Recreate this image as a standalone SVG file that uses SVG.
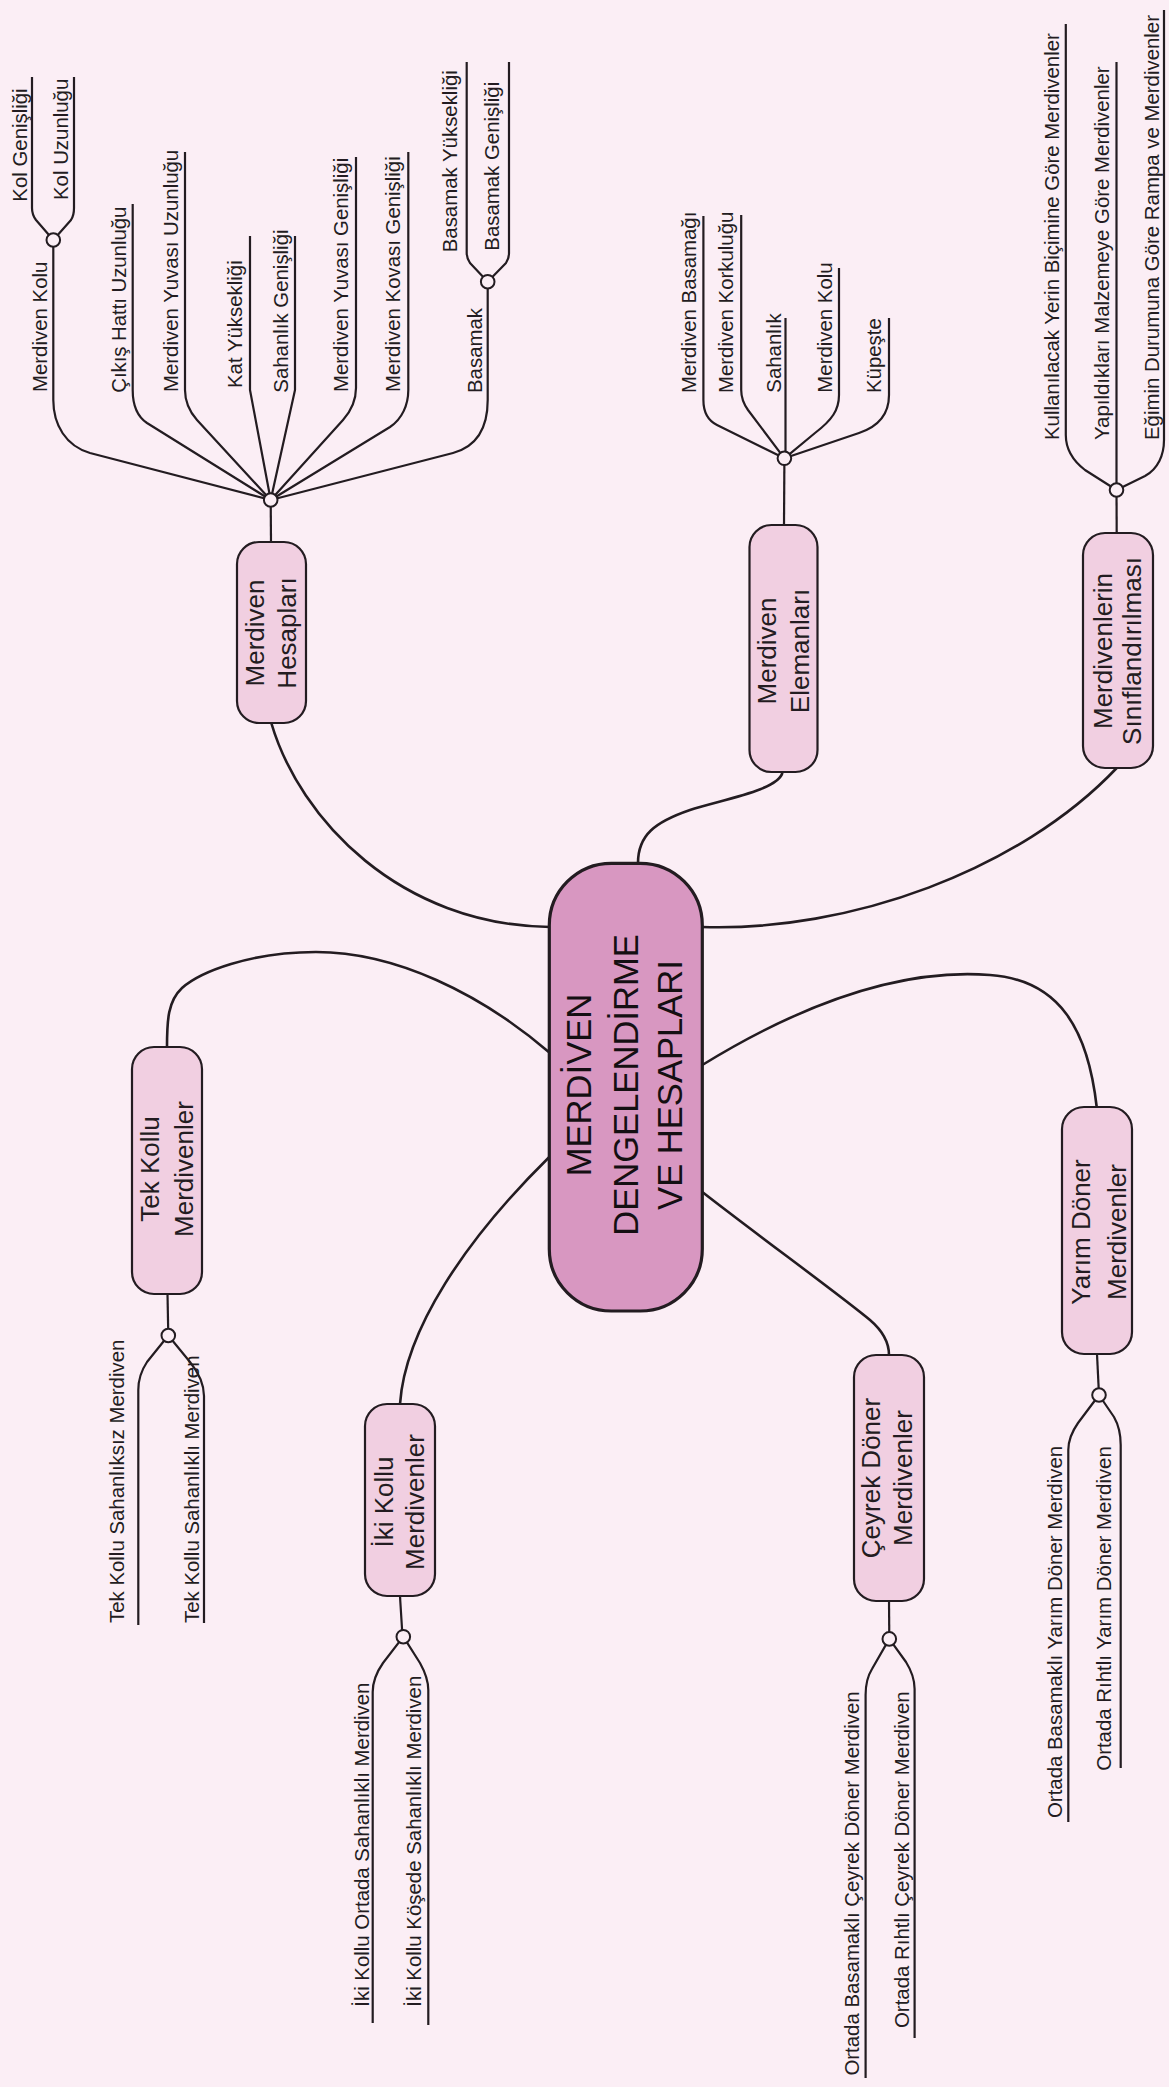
<svg xmlns="http://www.w3.org/2000/svg" width="1169" height="2087" viewBox="0 0 1169 2087">
<style>
.conn{fill:none;stroke:#231c21;stroke-width:2.6;stroke-linecap:round}
.leaf{fill:none;stroke:#231c21;stroke-width:2.2;stroke-linejoin:round}
.hub{fill:#fbeef5;stroke:#231c21;stroke-width:2}
.box{fill:#f1cfe1;stroke:#231c21;stroke-width:2.2}
.cbox{fill:#d897c1;stroke:#231c21;stroke-width:3.2}
text{font-family:"Liberation Sans",Arial,sans-serif;fill:#231c21}
.t{font-size:20.4px}
.nt{font-size:26px;text-anchor:middle}
.ct{font-size:34.6px;text-anchor:middle;fill:#140f12}
</style>
<rect x="0" y="0" width="1169" height="2087" fill="#fbeef5"/>

<g id="connectors">
<path class="conn" d="M 271.3,723 C 300,820 400,925 550,927"/>
<path class="conn" d="M 782.5,772 C 780,790 720,800 690,810 C 655,822 638,835 638,863"/>
<path class="conn" d="M 701.7,927 C 850,932 1020,870 1116.7,768"/>
<path class="conn" d="M 550,1053 C 480,993 395,952 316,952 C 250,952 200,972 182,988 C 168,1001 167,1020 167,1047"/>
<path class="conn" d="M 549.3,1157 C 465,1240 405,1330 400,1404"/>
<path class="conn" d="M 702.3,1065 C 800,1005 900,968 990,975 C 1060,980 1088,1030 1096.7,1107"/>
<path class="conn" d="M 702.3,1192 C 760,1237 840,1295 870,1320 C 884,1332 889,1343 889,1355"/>
<path class="leaf" d="M 271,542 L 270.7,500"/>
<path class="leaf" d="M 784,525 L 784.4,458.3"/>
<path class="leaf" d="M 1116.7,533 L 1116.5,490"/>
<path class="leaf" d="M 167.5,1294 L 168.3,1335.5"/>
<path class="leaf" d="M 400,1596 L 402.5,1636.7"/>
<path class="leaf" d="M 889,1601 L 889.3,1638.9"/>
<path class="leaf" d="M 1097,1354 L 1099,1395"/>
</g>

<g id="leaf-lines">
<path class="leaf" d="M 270.7,500 L 90,453 C 66,446 53.3,425 53.3,400 L 53.3,246"/>
<path class="leaf" d="M 270.7,500 L 147,423 C 138,417 132.7,405 132.7,390 L 132.7,204"/>
<path class="leaf" d="M 270.7,500 L 197,420 C 189,411 185,402 185,390 L 185,152"/>
<path class="leaf" d="M 270.7,500 L 250,390 L 250,236"/>
<path class="leaf" d="M 270.7,500 L 295,390 L 295,236"/>
<path class="leaf" d="M 270.7,500 L 343,420 C 351,411 356,400 356,388 L 356,157"/>
<path class="leaf" d="M 270.7,500 L 390,427 C 402,419 408.3,405 408.3,390 L 408.3,152"/>
<path class="leaf" d="M 270.7,500 L 453,453 C 475,447 487.7,430 487.7,400 L 487.7,288"/>
<path class="leaf" d="M 53.3,240 L 36,220 C 33,216 32,213 32,208 L 32,77"/>
<path class="leaf" d="M 53.3,240 L 71,220 C 73,217 74,213 74,208 L 74,77"/>
<path class="leaf" d="M 487.7,281.7 L 470,263 C 468,260 466.7,257 466.7,253 L 466.7,62"/>
<path class="leaf" d="M 487.7,281.7 L 506,263 C 508,260 509,257 509,253 L 509,62"/>

<path class="leaf" d="M 784.4,458.3 L 717,425 C 707,420 703.4,412 703.4,400 L 703.4,216"/>
<path class="leaf" d="M 784.4,458.3 L 748,410 C 743,403 741.2,398 741.2,390 L 741.2,215"/>
<path class="leaf" d="M 785.5,458.3 L 785.5,318"/>
<path class="leaf" d="M 784.4,458.3 L 815,433 C 832,420 839,410 839,395 L 839,268"/>
<path class="leaf" d="M 784.4,458.3 L 859,433 C 880,426 889,412 889,395 L 889,318"/>

<path class="leaf" d="M 1116.5,490 L 1085,470 C 1072,460 1065.8,448 1065.8,435 L 1065.8,24"/>
<path class="leaf" d="M 1116.5,490 L 1116.5,62"/>
<path class="leaf" d="M 1116.5,490 L 1145,476 C 1158,469 1164,455 1164,440 L 1164,10"/>

<path class="leaf" d="M 168.3,1335.5 L 147,1362 C 141,1371 138.3,1380 138.3,1390 L 138.3,1625"/>
<path class="leaf" d="M 168.3,1335.5 L 190,1362 C 198,1372 204,1384 204,1396 L 204,1623"/>
<path class="leaf" d="M 403.3,1636.7 L 383,1663 C 376,1673 372.7,1682 372.7,1692 L 372.7,2023"/>
<path class="leaf" d="M 403.3,1636.7 L 420,1663 C 425,1672 428.3,1680 428.3,1690 L 428.3,2025"/>
<path class="leaf" d="M 889.3,1638.9 L 872,1669 C 867,1677 865.6,1685 865.6,1695 L 865.6,2078"/>
<path class="leaf" d="M 889.3,1638.9 L 906,1662 C 911,1670 914.6,1678 914.6,1689 L 914.6,2038"/>
<path class="leaf" d="M 1099,1395 L 1078,1423 C 1071,1433 1068.3,1441 1068.3,1450 L 1068.3,1822"/>
<path class="leaf" d="M 1099,1395 L 1114,1417 C 1118,1424 1120.7,1432 1120.7,1445 L 1120.7,1768"/>
</g>

<g id="hubs">
<circle class="hub" cx="270.7" cy="500" r="6.8"/>
<circle class="hub" cx="53.3" cy="240" r="6.8"/>
<circle class="hub" cx="487.7" cy="281.7" r="6.8"/>
<circle class="hub" cx="784.4" cy="458.3" r="6.8"/>
<circle class="hub" cx="1116.5" cy="490" r="6.8"/>
<circle class="hub" cx="168.3" cy="1335.5" r="6.8"/>
<circle class="hub" cx="403.3" cy="1636.7" r="6.8"/>
<circle class="hub" cx="889.3" cy="1638.9" r="6.8"/>
<circle class="hub" cx="1099" cy="1395" r="6.8"/>
</g>

<g id="node-center">
<rect class="cbox" x="549.3" y="863.3" width="153" height="447.7" rx="62" ry="62"/>
<g transform="translate(0,1085) rotate(-90)">
<text class="ct" x="0" y="590.7">MERDİVEN</text>
<text class="ct" x="0" y="638.3">DENGELENDİRME</text>
<text class="ct" x="0" y="682.3">VE HESAPLARI</text>
</g>
</g>

<g id="node-hesaplari">
<rect class="box" x="237" y="542" width="69" height="181" rx="22"/>
<g transform="translate(0,633) rotate(-90)">
<text class="nt" x="0" y="264.3">Merdiven</text>
<text class="nt" x="0" y="296">Hesapları</text>
</g>
</g>
<g id="node-elemanlari">
<rect class="box" x="749.5" y="525" width="68" height="247" rx="22"/>
<g transform="translate(0,651) rotate(-90)">
<text class="nt" x="0" y="776.3">Merdiven</text>
<text class="nt" x="0" y="808.6">Elemanları</text>
</g>
</g>
<g id="node-siniflandirilmasi">
<rect class="box" x="1083" y="533" width="70" height="235" rx="22"/>
<g transform="translate(0,651) rotate(-90)">
<text class="nt" x="0" y="1112">Merdivenlerin</text>
<text class="nt" x="0" y="1141">Sınıflandırılması</text>
</g>
</g>
<g id="node-tekkollu">
<rect class="box" x="132" y="1047" width="70" height="247" rx="22"/>
<g transform="translate(0,1169) rotate(-90)">
<text class="nt" x="0" y="158.8">Tek Kollu</text>
<text class="nt" x="0" y="193.3">Merdivenler</text>
</g>
</g>
<g id="node-ikikollu">
<rect class="box" x="365" y="1404" width="70" height="192" rx="22"/>
<g transform="translate(0,1502) rotate(-90)">
<text class="nt" x="0" y="393.3">İki Kollu</text>
<text class="nt" x="0" y="424">Merdivenler</text>
</g>
</g>
<g id="node-ceyrek">
<rect class="box" x="854" y="1355" width="70" height="246" rx="22"/>
<g transform="translate(0,1478) rotate(-90)">
<text class="nt" x="0" y="880.4">Çeyrek Döner</text>
<text class="nt" x="0" y="911.5">Merdivenler</text>
</g>
</g>
<g id="node-yarim">
<rect class="box" x="1062" y="1107" width="70" height="247" rx="22"/>
<g transform="translate(0,1232) rotate(-90)">
<text class="nt" x="0" y="1090">Yarım Döner</text>
<text class="nt" x="0" y="1126">Merdivenler</text>
</g>
</g>

<g id="leaf-texts">
<text class="t" transform="translate(26.5,201.7) rotate(-90)">Kol Genişliği</text>
<text class="t" transform="translate(68.3,200) rotate(-90)">Kol Uzunluğu</text>
<text class="t" transform="translate(46.5,392) rotate(-90)">Merdiven Kolu</text>
<text class="t" transform="translate(126,392.7) rotate(-90)" textLength="186" lengthAdjust="spacing">Çıkış Hattı Uzunluğu</text>
<text class="t" transform="translate(178,392) rotate(-90)">Merdiven Yuvası Uzunluğu</text>
<text class="t" transform="translate(241.7,388) rotate(-90)">Kat Yüksekliği</text>
<text class="t" transform="translate(288,392.7) rotate(-90)">Sahanlık Genişliği</text>
<text class="t" transform="translate(348.3,392) rotate(-90)">Merdiven Yuvası Genişliği</text>
<text class="t" transform="translate(400,392) rotate(-90)">Merdiven Kovası Genişliği</text>
<text class="t" transform="translate(481.7,393) rotate(-90)">Basamak</text>
<text class="t" transform="translate(457.3,252.3) rotate(-90)">Basamak Yüksekliği</text>
<text class="t" transform="translate(499,250.7) rotate(-90)">Basamak Genişliği</text>

<text class="t" transform="translate(695.7,393) rotate(-90)">Merdiven Basamağı</text>
<text class="t" transform="translate(732.8,393) rotate(-90)">Merdiven Korkuluğu</text>
<text class="t" transform="translate(781,392.7) rotate(-90)">Sahanlık</text>
<text class="t" transform="translate(831.5,392.7) rotate(-90)">Merdiven Kolu</text>
<text class="t" transform="translate(881,393) rotate(-90)">Küpeşte</text>

<text class="t" transform="translate(1059,440) rotate(-90)">Kullanılacak Yerin Biçimine Göre Merdivenler</text>
<text class="t" transform="translate(1109,440) rotate(-90)">Yapıldıkları Malzemeye Göre Merdivenler</text>
<text class="t" transform="translate(1159,440) rotate(-90)">Eğimin Durumuna Göre Rampa ve Merdivenler</text>

<text class="t" transform="translate(124,1623) rotate(-90)">Tek Kollu Sahanlıksız Merdiven</text>
<text class="t" transform="translate(199,1623) rotate(-90)">Tek Kollu Sahanlıklı Merdiven</text>
<text class="t" transform="translate(369.3,2006.7) rotate(-90)">İki Kollu Ortada Sahanlıklı Merdiven</text>
<text class="t" transform="translate(420.7,2006.7) rotate(-90)">İki Kollu Köşede Sahanlıklı Merdiven</text>
<text class="t" transform="translate(859,2075.6) rotate(-90)">Ortada Basamaklı Çeyrek Döner Merdiven</text>
<text class="t" transform="translate(909,2028) rotate(-90)">Ortada Rıhtlı Çeyrek Döner Merdiven</text>
<text class="t" transform="translate(1062.3,1818) rotate(-90)">Ortada Basamaklı Yarım Döner Merdiven</text>
<text class="t" transform="translate(1111,1770.7) rotate(-90)">Ortada Rıhtlı Yarım Döner Merdiven</text>
</g>
</svg>
